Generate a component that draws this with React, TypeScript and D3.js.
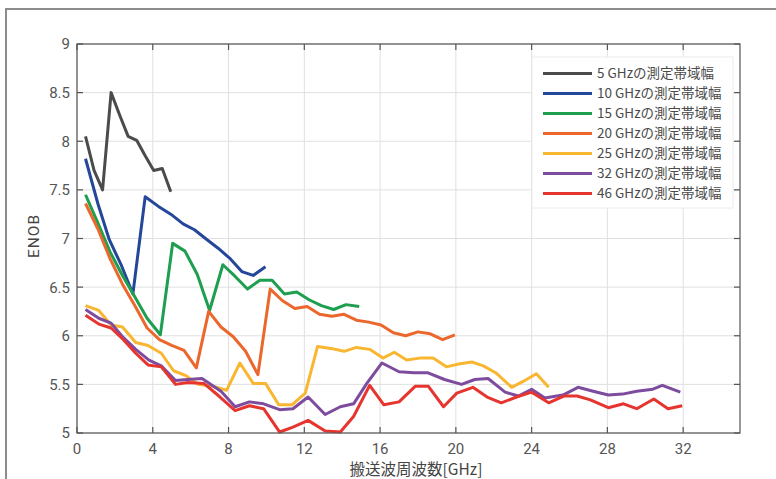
import React from 'react';
import * as d3 from 'd3';

const W = 776;
const H = 479;

const xTicks = [0, 4, 8, 12, 16, 20, 24, 28, 32];
const yTicks = [5, 5.5, 6, 6.5, 7, 7.5, 8, 8.5, 9];
const yTickLabels = ['5', '5.5', '6', '6.5', '7', '7.5', '8', '8.5', '9'];

const legendLabels = [
  '5 GHzの測定帯域幅',
  '10 GHzの測定帯域幅',
  '15 GHzの測定帯域幅',
  '20 GHzの測定帯域幅',
  '25 GHzの測定帯域幅',
  '32 GHzの測定帯域幅',
  '46 GHzの測定帯域幅',
];
const colors = ['#4b4b4b', '#24479a', '#1e9e4f', '#eb672c', '#f8b631', '#7d4c9f', '#e6352f'];

const bw5X = [0.45, 0.9, 1.35, 1.8, 2.25, 2.7, 3.15, 3.6, 4.05, 4.5, 4.95];
const bw5Y = [8.05, 7.7, 7.5, 8.5, 8.27, 8.05, 8.01, 7.85, 7.7, 7.72, 7.48];

const bw10X = [0.45, 1.1, 1.7, 2.35, 2.95, 3.6, 4.3, 4.95, 5.6, 6.2, 6.85, 7.45, 8.1, 8.7, 9.3, 9.95];
const bw10Y = [7.82, 7.36, 6.99, 6.72, 6.43, 7.43, 7.33, 7.25, 7.15, 7.09, 6.99, 6.9, 6.79, 6.66, 6.62, 6.71];

const bw15X = [0.45, 1.1, 1.75, 2.4, 3.05, 3.7, 4.4, 5.05, 5.7, 6.35, 7.0, 7.7, 8.35, 9.0, 9.65, 10.3, 10.95, 11.6, 12.25, 12.9, 13.55, 14.2, 14.9];
const bw15Y = [7.45, 7.16, 6.86, 6.62, 6.4, 6.18, 6.01, 6.95, 6.87, 6.63, 6.26, 6.73, 6.61, 6.48, 6.57, 6.57, 6.43, 6.45, 6.37, 6.31, 6.27, 6.32, 6.3];

const bw20X = [0.45, 1.1, 1.75, 2.4, 3.05, 3.7, 4.35, 5.0, 5.65, 6.3, 6.95, 7.6, 8.25, 8.9, 9.55, 10.2, 10.85, 11.5, 12.15, 12.8, 13.45, 14.1, 14.75, 15.4, 16.05, 16.7, 17.35, 18.0, 18.65, 19.3, 19.95];
const bw20Y = [7.36, 7.1, 6.79, 6.53, 6.31, 6.08, 5.96, 5.9, 5.85, 5.67, 6.25, 6.09, 5.99, 5.84, 5.6, 6.48, 6.36, 6.28, 6.3, 6.22, 6.2, 6.22, 6.16, 6.14, 6.11, 6.03, 6.0, 6.04, 6.02, 5.96, 6.01];

const bw25X = [0.45, 1.15, 1.8, 2.4, 3.1, 3.75, 4.45, 5.1, 5.75, 6.4, 7.15, 7.9, 8.6, 9.3, 9.95, 10.65, 11.35, 12.05, 12.7, 13.4, 14.1, 14.75, 15.45, 16.15, 16.75, 17.4, 18.1, 18.8, 19.5, 20.15, 20.85, 21.45, 22.1, 22.95, 23.55, 24.25, 24.9];
const bw25Y = [6.31, 6.26, 6.11, 6.09, 5.93, 5.9, 5.82, 5.64, 5.59, 5.5, 5.48, 5.44, 5.72, 5.51, 5.51, 5.29, 5.29, 5.41, 5.89, 5.87, 5.84, 5.88, 5.86, 5.77, 5.83, 5.75, 5.77, 5.77, 5.68, 5.71, 5.73, 5.69, 5.62, 5.47, 5.53, 5.61, 5.47];

const bw32X = [0.45, 1.15, 1.8, 2.45, 3.1, 3.8, 4.45, 5.2, 5.85, 6.6, 7.6, 8.35, 9.1, 9.85, 10.7, 11.4, 12.2, 13.1, 13.9, 14.6, 15.3, 16.1, 17.0, 17.8, 18.5, 19.4, 20.3, 21.0, 21.7, 22.6, 23.3, 24.0, 24.7, 25.65, 26.45, 27.25, 28.05, 28.8, 29.55, 30.4, 30.9, 31.85];
const bw32Y = [6.27, 6.18, 6.13, 5.98, 5.86, 5.75, 5.69, 5.54, 5.55, 5.56, 5.43, 5.27, 5.32, 5.3, 5.24, 5.25, 5.37, 5.19, 5.27, 5.3, 5.51, 5.72, 5.63, 5.62, 5.62, 5.55, 5.5, 5.55, 5.56, 5.42, 5.38, 5.45, 5.36, 5.39, 5.47, 5.43, 5.39, 5.4, 5.43, 5.45, 5.49, 5.42];

const bw46X = [0.45, 1.15, 1.8, 2.45, 3.1, 3.75, 4.45, 5.2, 5.85, 6.7, 7.55, 8.35, 9.1, 9.85, 10.7, 11.4, 12.2, 13.1, 13.9, 14.6, 15.45, 16.2, 17.0, 17.85, 18.55, 19.35, 20.05, 20.9, 21.65, 22.4, 23.2, 24.0, 24.9, 25.7, 26.4, 27.1, 28.05, 28.85, 29.55, 30.45, 31.2, 31.95];
const bw46Y = [6.21, 6.12, 6.08, 5.96, 5.82, 5.7, 5.68, 5.5, 5.52, 5.51, 5.37, 5.23, 5.28, 5.25, 5.01, 5.06, 5.13, 5.02, 5.01, 5.17, 5.49, 5.29, 5.32, 5.48, 5.48, 5.27, 5.41, 5.47, 5.37, 5.31, 5.37, 5.42, 5.31, 5.38, 5.38, 5.34, 5.26, 5.3, 5.25, 5.35, 5.25, 5.28];

const seriesX = [bw5X, bw10X, bw15X, bw20X, bw25X, bw32X, bw46X];
const seriesY = [bw5Y, bw10Y, bw15Y, bw20Y, bw25Y, bw32Y, bw46Y];

export default function App() {
  const x = d3.scaleLinear().domain([0, 35]).range([77, 740]);
  const y = d3.scaleLinear().domain([5, 9]).range([433, 44]);
  const line = d3
    .line<[number, number]>()
    .x((d) => x(d[0]))
    .y((d) => y(d[1]));

  const [x0, x1] = x.range();
  const [y0, y1] = y.range();
  const tickFont = 'Roboto, "Liberation Sans", sans-serif';
  const cjkFont = '"Noto Sans CJK JP", "Noto Sans", sans-serif';

  const legX = 532;
  const legY = 57;

  return (
    <svg
      width={W}
      height={H}
      style={{ position: 'absolute', left: 0, top: 0, display: 'block', background: '#fff' }}
    >
      <rect x={0} y={0} width={W} height={H} fill="#fff" />
      {/* outer frame */}
      <path d={`M6,${H} L6,9 L${W},9`} fill="none" stroke="#8c8c8c" strokeWidth={2} />

      {/* grid */}
      {xTicks.map((t) => (
        <line key={'gx' + t} x1={x(t)} x2={x(t)} y1={y0} y2={y1} stroke="#e0e0e0" strokeWidth={1} />
      ))}
      {yTicks.map((t) => (
        <line key={'gy' + t} x1={x0} x2={x1} y1={y(t)} y2={y(t)} stroke="#e0e0e0" strokeWidth={1} />
      ))}

      {/* series */}
      {seriesX.map((xs, i) => (
        <path
          key={'s' + i}
          d={line(xs.map((v, j) => [v, seriesY[i][j]] as [number, number])) || ''}
          fill="none"
          stroke={colors[i]}
          strokeWidth={3}
          strokeLinejoin="round"
          strokeLinecap="butt"
        />
      ))}

      {/* legend */}
      <rect x={legX} y={legY} width={201} height={151} fill="#fff" stroke="#ececec" strokeWidth={1} />
      {legendLabels.map((lab, i) => {
        const ly = 73.5 + i * 20;
        return (
          <g key={'l' + i}>
            <line x1={543} x2={592} y1={ly} y2={ly} stroke={colors[i]} strokeWidth={3} />
            <text
              x={597}
              y={ly}
              dy="0.35em"
              fontSize={13.5}
              fill="#4a4a4a"
              fontFamily={cjkFont}
            >
              {lab}
            </text>
          </g>
        );
      })}

      {/* axes box */}
      <rect x={x0} y={y1} width={x1 - x0} height={y0 - y1} fill="none" stroke="#555" strokeWidth={1.2} />
      {xTicks.map((t) => (
        <g key={'tx' + t}>
          <line x1={x(t)} x2={x(t)} y1={y0} y2={y0 - 6} stroke="#555" strokeWidth={1.2} />
          <line x1={x(t)} x2={x(t)} y1={y1} y2={y1 + 6} stroke="#555" strokeWidth={1.2} />
          <text
            x={x(t)}
            y={454}
            textAnchor="middle"
            fontSize={15}
            fill="#555"
            fontFamily={tickFont}
          >
            {t}
          </text>
        </g>
      ))}
      {yTicks.map((t, i) => (
        <g key={'ty' + t}>
          <line x1={x0} x2={x0 + 6} y1={y(t)} y2={y(t)} stroke="#555" strokeWidth={1.2} />
          <line x1={x1} x2={x1 - 6} y1={y(t)} y2={y(t)} stroke="#555" strokeWidth={1.2} />
          <text
            x={70}
            y={y(t)}
            dy="0.36em"
            textAnchor="end"
            fontSize={15}
            fill="#555"
            fontFamily={tickFont}
          >
            {yTickLabels[i]}
          </text>
        </g>
      ))}

      {/* axis labels */}
      <text
        x={416}
        y={475}
        textAnchor="middle"
        fontSize={15.5}
        fill="#444"
        fontFamily={cjkFont}
      >
        搬送波周波数[GHz]
      </text>
      <text
        transform={`translate(39,236) rotate(-90)`}
        textAnchor="middle"
        fontSize={15.5}
        fill="#444"
        fontFamily={tickFont}
        letterSpacing={1}
      >
        ENOB
      </text>
    </svg>
  );
}
